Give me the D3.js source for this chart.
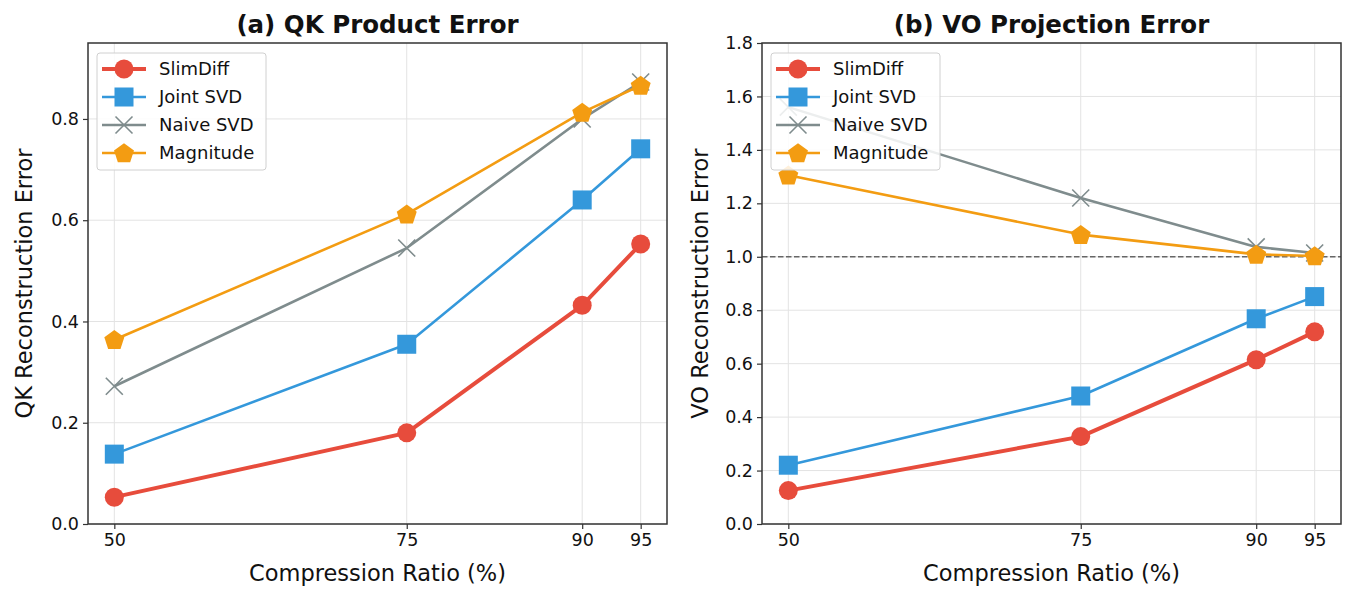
<!DOCTYPE html>
<html><head><meta charset="utf-8">
<script src="https://cdn.jsdelivr.net/npm/d3@7"></script>
<style>body{margin:0;background:#fff;} svg{display:block;font-family:"DejaVu Sans",sans-serif;}</style>
</head><body>
<svg id="c" width="1354" height="599"></svg>
<script>
const ratios = [50, 75, 90, 95];
const seriesNames = ["SlimDiff", "Joint SVD", "Naive SVD", "Magnitude"];
const qkSlimDiff = [0.053, 0.180, 0.432, 0.553];
const qkJoint = [0.138, 0.355, 0.640, 0.741];
const qkNaive = [0.272, 0.545, 0.800, 0.873];
const qkMagnitude = [0.364, 0.612, 0.813, 0.866];
const voSlimDiff = [0.125, 0.327, 0.615, 0.719];
const voJoint = [0.220, 0.479, 0.768, 0.851];
const voNaive = [1.560, 1.220, 1.037, 1.014];
const voMagnitude = [1.305, 1.083, 1.009, 1.003];
const qkTicks = [0, 0.2, 0.4, 0.6, 0.8];
const voTicks = [0, 0.2, 0.4, 0.6, 0.8, 1.0, 1.2, 1.4, 1.6, 1.8];

const colors = ["#e74c3c", "#3498db", "#7f8c8d", "#f39c12"];
const widths = [4, 2.6, 2.6, 2.6];
const shapes = ["circle", "square", "x", "pentagon"];

const svg = d3.select("#c");

function marker(g, shape, color, x, y) {
  if (shape === "circle") {
    g.append("circle").attr("cx", x).attr("cy", y).attr("r", 9.5).attr("fill", color);
  } else if (shape === "square") {
    g.append("rect").attr("x", x - 9.5).attr("y", y - 9.5).attr("width", 19).attr("height", 19).attr("fill", color);
  } else if (shape === "x") {
    const s = 8.5;
    g.append("path").attr("d", `M${x-s},${y-s}L${x+s},${y+s}M${x-s},${y+s}L${x+s},${y-s}`)
      .attr("stroke", color).attr("stroke-width", 1.6).attr("fill", "none");
  } else {
    const r = 10.5;
    const pts = d3.range(5).map(i => {
      const a = -Math.PI / 2 + i * 2 * Math.PI / 5;
      return [x + r * Math.cos(a), y + r * Math.sin(a) + 0.8];
    });
    g.append("polygon").attr("points", pts.map(p => p.join(",")).join(" ")).attr("fill", color);
  }
}

function panel(opts) {
  const {left, right, top, bottom, yMax, yTicks, data, title, ylabel, dashed, ylabelX} = opts;
  const x = d3.scaleLinear().domain([47.75, 97.25]).range([left, right]);
  const y = d3.scaleLinear().domain([0, yMax]).range([bottom, top]);
  const g = svg.append("g");
  // grid
  g.append("g").selectAll("line").data(ratios).join("line")
    .attr("x1", d => x(d)).attr("x2", d => x(d)).attr("y1", top).attr("y2", bottom)
    .attr("stroke", "#e3e3e3").attr("stroke-width", 1);
  g.append("g").selectAll("line").data(yTicks).join("line")
    .attr("x1", left).attr("x2", right).attr("y1", d => y(d)).attr("y2", d => y(d))
    .attr("stroke", "#e3e3e3").attr("stroke-width", 1);
  if (dashed !== undefined) {
    g.append("line").attr("x1", left).attr("x2", right).attr("y1", y(dashed)).attr("y2", y(dashed))
      .attr("stroke", "#666").attr("stroke-width", 1.5).attr("stroke-dasharray", "5.5,2.5");
  }
  // series
  data.forEach((vals, i) => {
    const sg = g.append("g");
    const line = d3.line().x((d, j) => x(ratios[j])).y(d => y(d));
    sg.append("path").datum(vals).attr("d", line).attr("fill", "none")
      .attr("stroke", colors[i]).attr("stroke-width", widths[i]).attr("stroke-linejoin", "round");
    vals.forEach((v, j) => marker(sg, shapes[i], colors[i], x(ratios[j]), y(v)));
  });
  // axes
  const xa = g.append("g").attr("transform", `translate(0,${bottom})`)
    .call(d3.axisBottom(x).tickValues(ratios).tickSize(5).tickPadding(5).tickFormat(d3.format("d")));
  const ya = g.append("g").attr("transform", `translate(${left},0)`)
    .call(d3.axisLeft(y).tickValues(yTicks).tickSize(5).tickPadding(4).tickFormat(d3.format(".1f")));
  [xa, ya].forEach(a => {
    a.select(".domain").remove();
    a.selectAll("line").attr("stroke", "#333").attr("stroke-width", 1.2);
    a.selectAll("text").attr("font-size", 17.5).attr("fill", "#111").attr("font-family", "DejaVu Sans");
  });
  g.append("rect").attr("x", left).attr("y", top).attr("width", right - left).attr("height", bottom - top)
    .attr("fill", "none").attr("stroke", "#333").attr("stroke-width", 1.5);
  // titles
  g.append("text").attr("x", (left + right) / 2).attr("y", 33).attr("text-anchor", "middle")
    .attr("font-size", 24.5).attr("font-weight", "bold").attr("fill", "#111").text(title);
  g.append("text").attr("x", (left + right) / 2).attr("y", 581).attr("text-anchor", "middle")
    .attr("font-size", 22.5).attr("fill", "#111").text("Compression Ratio (%)");
  g.append("text").attr("transform", `translate(${ylabelX},${(top + bottom) / 2}) rotate(-90)`)
    .attr("text-anchor", "middle").attr("font-size", 22.5).attr("fill", "#111").text(ylabel);
  // legend
  const lx = left + 9, ly = top + 10;
  const lg = g.append("g");
  lg.append("rect").attr("x", lx).attr("y", ly).attr("width", 169).attr("height", 117).attr("rx", 3)
    .attr("fill", "rgba(255,255,255,0.85)").attr("stroke", "#d0d0d0").attr("stroke-width", 1);
  seriesNames.forEach((n, i) => {
    const cy = ly + 16 + i * 28;
    lg.append("line").attr("x1", lx + 5).attr("x2", lx + 49).attr("y1", cy).attr("y2", cy)
      .attr("stroke", colors[i]).attr("stroke-width", widths[i]);
    marker(lg, shapes[i], colors[i], lx + 27, cy);
    lg.append("text").attr("x", lx + 62).attr("y", cy).attr("dy", "0.36em")
      .attr("font-size", 18).attr("fill", "#111").text(n);
  });
}

panel({left: 88, right: 667, top: 43, bottom: 524, yMax: 0.95, yTicks: qkTicks,
  data: [qkSlimDiff, qkJoint, qkNaive, qkMagnitude], title: "(a) QK Product Error",
  ylabel: "QK Reconstruction Error", ylabelX: 32});
panel({left: 762, right: 1341, top: 43, bottom: 524, yMax: 1.8, yTicks: voTicks,
  data: [voSlimDiff, voJoint, voNaive, voMagnitude], title: "(b) VO Projection Error",
  ylabel: "VO Reconstruction Error", ylabelX: 708, dashed: 1.0});
</script>
</body></html>
